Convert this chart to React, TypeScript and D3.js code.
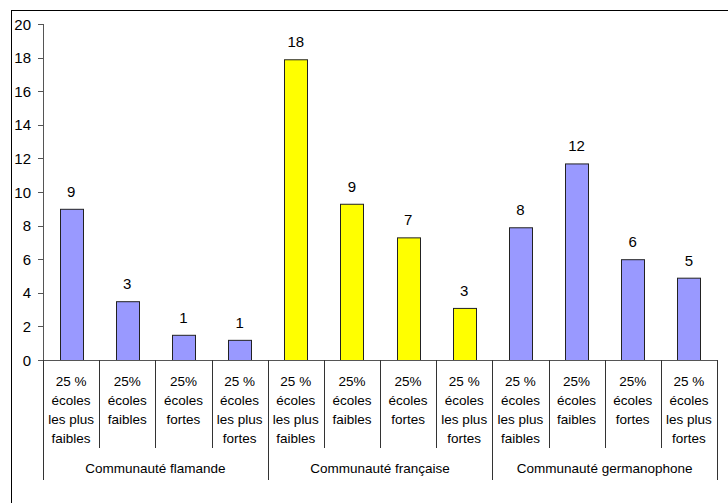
import React from "react";
import * as d3 from "d3";

const groups = ["Communauté flamande", "Communauté française", "Communauté germanophone"];
const subLabels = [
  ["25 %", "écoles", "les plus", "faibles"],
  ["25%", "écoles", "faibles"],
  ["25%", "écoles", "fortes"],
  ["25 %", "écoles", "les plus", "fortes"],
];
const values = [9.0, 3.5, 1.5, 1.2, 17.9, 9.3, 7.3, 3.1, 7.9, 11.7, 6.0, 4.9];
const valueLabels = ["9", "3", "1", "1", "18", "9", "7", "3", "8", "12", "6", "5"];
const barColors = ["#9999FF", "#FFFF00", "#9999FF"];
const yTicks = [0, 2, 4, 6, 8, 10, 12, 14, 16, 18, 20];

export default function App() {
  const W = 728, H = 503;
  const x0 = 43, x1 = 717, yTop = 24, yBot = 360;
  const idx = values.map((_, i) => i);
  const x = d3.scaleBand<number>().domain(idx).range([x0, x1]).padding(0);
  const y = d3.scaleLinear().domain([0, 20]).range([yBot, yTop]);
  const bw = x.bandwidth() * 0.41;
  const font = "'Liberation Sans', Arial, sans-serif";
  const nSub = subLabels.length;
  return (
    <div style={{ position: "absolute", left: 0, top: 0 }}>
      <svg width={W} height={H} style={{ display: "block" }}>
        <rect x={0} y={0} width={W} height={H} fill="#fff" />
        <rect x={11.5} y={10.5} width={730} height={510} fill="none" stroke="#000" strokeWidth={1} />
        {/* bars */}
        {values.map((v, i) => {
          const cx = (x(i) as number) + x.bandwidth() / 2;
          return (
            <g key={i}>
              <rect
                x={Math.round(cx - bw / 2) + 0.5}
                y={y(v) + 0.5}
                width={Math.round(bw)}
                height={yBot - y(v)}
                fill={barColors[Math.floor(i / nSub)]}
                stroke="#222"
                strokeWidth={1}
              />
              <text x={cx} y={y(v) - 12} textAnchor="middle" fontFamily={font} fontSize={15} fill="#000">
                {valueLabels[i]}
              </text>
            </g>
          );
        })}
        {/* y axis */}
        <line x1={x0 + 0.5} x2={x0 + 0.5} y1={yTop} y2={yBot} stroke="#555" />
        {yTicks.map((t) => (
          <g key={t}>
            <line x1={x0 - 5} x2={x0} y1={Math.round(y(t)) + 0.5} y2={Math.round(y(t)) + 0.5} stroke="#555" />
            <text x={31} y={y(t) + 5.5} textAnchor="end" fontFamily={font} fontSize={15} fill="#000">
              {t}
            </text>
          </g>
        ))}
        {/* x axis */}
        <line x1={x0} x2={x1} y1={yBot + 0.5} y2={yBot + 0.5} stroke="#555" />
        {idx.map((i) => {
          const left = x(i) as number;
          const isGroup = i % nSub === 0;
          return (
            <line key={"s" + i} x1={Math.round(left) + 0.5} x2={Math.round(left) + 0.5} y1={yBot} y2={isGroup ? 480 : 448} stroke="#333" />
          );
        })}
        <line x1={x1 + 0.5} x2={x1 + 0.5} y1={yBot} y2={480} stroke="#333" />
        {idx.map((i) => {
          const cx = (x(i) as number) + x.bandwidth() / 2;
          const lines = subLabels[i % nSub];
          return (
            <text key={"l" + i} textAnchor="middle" fontFamily={font} fontSize={13.5} fill="#000">
              {lines.map((ln, k) => (
                <tspan key={k} x={cx} y={386 + k * 19}>
                  {ln}
                </tspan>
              ))}
            </text>
          );
        })}
        {groups.map((g, gi) => {
          const a = x(gi * nSub) as number;
          const b = (x(gi * nSub + nSub - 1) as number) + x.bandwidth();
          return (
            <text key={g} x={(a + b) / 2} y={473} textAnchor="middle" fontFamily={font} fontSize={13.5} fill="#000">
              {g}
            </text>
          );
        })}
      </svg>
    </div>
  );
}
